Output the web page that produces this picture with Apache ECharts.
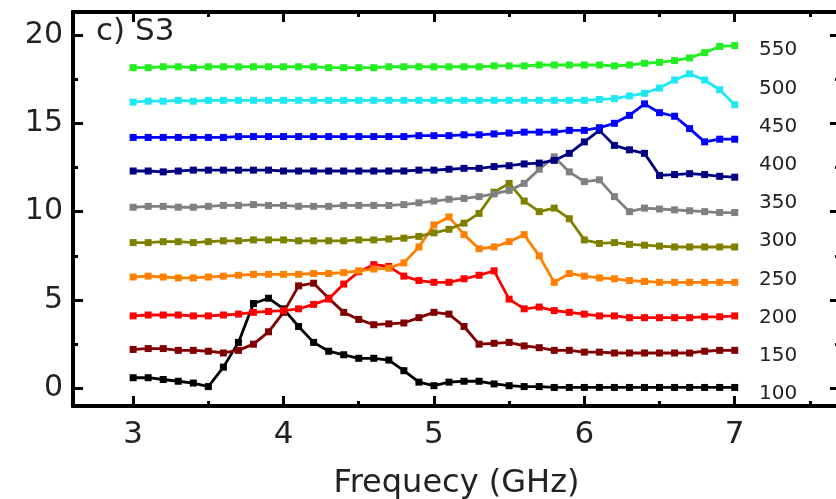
<!DOCTYPE html>
<html>
<head>
<meta charset="utf-8">
<script src="https://cdn.jsdelivr.net/npm/echarts@6/dist/echarts.min.js"></script>
<style>
html,body{margin:0;padding:0;background:#fff;overflow:hidden;}
#chart{width:850px;height:499px;}
</style>
</head>
<body>
<div id="chart"></div>
<script>
// ---- data ----
const freq = [3.0,3.1,3.2,3.3,3.4,3.5,3.6,3.7,3.8,3.9,4.0,4.1,4.2,4.3,4.4,4.5,4.6,4.7,4.8,4.9,5.0,5.1,5.2,5.3,5.4,5.5,5.6,5.7,5.8,5.9,6.0,6.1,6.2,6.3,6.4,6.5,6.6,6.7,6.8,6.9,7.0];
const seriesNames = ['100','150','200','250','300','350','400','450','500','550'];
const s100 = [0.6,0.6,0.5,0.4,0.3,0.1,1.2,2.6,4.8,5.1,4.5,3.5,2.6,2.1,1.9,1.7,1.7,1.6,1.0,0.35,0.15,0.35,0.4,0.4,0.25,0.15,0.1,0.1,0.05,0.05,0.05,0.05,0.05,0.05,0.05,0.05,0.05,0.05,0.05,0.05,0.05];
const s150 = [2.2,2.25,2.25,2.15,2.15,2.1,2.0,2.15,2.5,3.2,4.3,5.8,5.95,5.1,4.3,3.9,3.6,3.65,3.7,4.0,4.3,4.2,3.5,2.5,2.55,2.6,2.4,2.3,2.15,2.15,2.05,2.05,2.0,2.0,2.0,2.0,2.0,2.0,2.1,2.15,2.15];
const s200 = [4.1,4.15,4.15,4.15,4.1,4.1,4.15,4.2,4.3,4.35,4.4,4.5,4.75,5.05,5.9,6.6,7.0,6.9,6.35,6.1,6.0,6.0,6.2,6.4,6.65,5.05,4.5,4.6,4.4,4.3,4.2,4.1,4.1,4.0,4.0,4.0,4.0,4.0,4.05,4.05,4.1];
const s250 = [6.3,6.35,6.3,6.25,6.25,6.3,6.35,6.4,6.45,6.45,6.45,6.45,6.5,6.5,6.55,6.65,6.75,6.8,7.1,8.0,9.25,9.7,8.7,7.9,8.0,8.3,8.7,7.5,6.0,6.5,6.35,6.25,6.2,6.1,6.05,6.0,6.0,6.0,6.0,6.0,6.0];
const s300 = [8.25,8.25,8.3,8.3,8.25,8.3,8.35,8.35,8.4,8.4,8.4,8.35,8.35,8.35,8.35,8.4,8.4,8.45,8.5,8.6,8.8,9.0,9.35,9.9,11.1,11.6,10.6,10.0,10.2,9.6,8.4,8.2,8.25,8.15,8.1,8.05,8.0,8.0,8.0,8.0,8.0];
const s350 = [10.25,10.3,10.3,10.25,10.25,10.3,10.35,10.35,10.4,10.35,10.35,10.3,10.3,10.3,10.35,10.35,10.35,10.35,10.4,10.5,10.6,10.7,10.75,10.85,11.0,11.2,11.6,12.4,13.1,12.25,11.7,11.8,10.85,10.0,10.2,10.15,10.1,10.05,10.0,9.95,9.95];
const s400 = [12.3,12.3,12.25,12.3,12.35,12.35,12.35,12.35,12.35,12.35,12.3,12.3,12.3,12.3,12.3,12.3,12.3,12.3,12.3,12.35,12.35,12.4,12.45,12.45,12.55,12.6,12.7,12.75,12.9,13.3,13.95,14.6,13.75,13.5,13.3,12.05,12.1,12.15,12.1,12.0,11.95];
const s450 = [14.2,14.2,14.2,14.2,14.2,14.2,14.2,14.25,14.25,14.25,14.25,14.25,14.25,14.25,14.25,14.25,14.25,14.25,14.25,14.3,14.3,14.3,14.35,14.35,14.4,14.45,14.5,14.5,14.5,14.6,14.6,14.75,15.0,15.45,16.1,15.6,15.4,14.7,13.95,14.1,14.1];
const s500 = [16.2,16.25,16.25,16.3,16.25,16.3,16.3,16.3,16.3,16.3,16.3,16.3,16.3,16.3,16.3,16.3,16.3,16.3,16.3,16.3,16.3,16.3,16.3,16.3,16.3,16.3,16.3,16.3,16.3,16.3,16.3,16.35,16.4,16.55,16.7,17.0,17.45,17.8,17.45,16.9,16.05];
const s550 = [18.15,18.15,18.2,18.2,18.15,18.2,18.2,18.2,18.2,18.2,18.2,18.2,18.2,18.15,18.15,18.15,18.15,18.2,18.2,18.2,18.2,18.2,18.2,18.2,18.25,18.25,18.25,18.3,18.3,18.3,18.3,18.3,18.25,18.3,18.4,18.45,18.55,18.7,19.0,19.35,19.4];
const seriesValues = [s100,s150,s200,s250,s300,s350,s400,s450,s500,s550];
const xMajorTicks = [3,4,5,6,7];
const xMinorTicks = [3.5,4.5,5.5,6.5,7.5];
const yMajorTicks = [0,5,10,15,20];
const yMinorTicks = [2.5,7.5,12.5,17.5];
const panelLabel = 'c) S3';
const xTitle = 'Frequecy (GHz)';

// ---- style ----
const colors = ['#000000','#800000','#ff0000','#ff8000','#808000','#808080','#000080','#0000ff','#1ee8f2','#22ee22'];
const FONT = 'DejaVu Sans';
const X_MIN = 2.6, X_MAX = 7.7, Y_MIN = -1, Y_MAX = 21.3;

function xAx(pos, ticks, len, labels) {
  return {
    type: 'value', position: pos, min: X_MIN, max: X_MAX,
    axisLine: {show: true, onZero: false, lineStyle: {color: '#000', width: 4}},
    axisTick: {show: true, inside: true, length: len, customValues: ticks, lineStyle: {color: '#000', width: 3}},
    axisLabel: labels ? {show: true, customValues: ticks, color: '#222', fontFamily: FONT, fontSize: 31, margin: 13,
      formatter: v => String(v)} : {show: false},
    splitLine: {show: false}
  };
}
function yAx(pos, ticks, len, labels) {
  return {
    type: 'value', position: pos, min: Y_MIN, max: Y_MAX,
    axisLine: {show: true, onZero: false, lineStyle: {color: '#000', width: 4}},
    axisTick: {show: true, inside: true, length: len, customValues: ticks, lineStyle: {color: '#000', width: 3}},
    axisLabel: labels ? {show: true, customValues: ticks, color: '#222', fontFamily: FONT, fontSize: 30, margin: 10,
      formatter: v => String(v)} : {show: false},
    splitLine: {show: false}
  };
}

const xAxes = [
  xAx('bottom', xMajorTicks, 10, true),
  xAx('bottom', xMinorTicks, 5, false),
  xAx('top', xMajorTicks, 10, false),
  xAx('top', xMinorTicks, 5, false)
];
xAxes[0].name = xTitle;
xAxes[0].nameLocation = 'middle';
xAxes[0].nameGap = 62;
xAxes[0].nameTextStyle = {fontFamily: FONT, fontSize: 32, color: '#222'};

const yAxes = [
  yAx('left', yMajorTicks, 10, true),
  yAx('left', yMinorTicks, 5, false),
  yAx('right', yMajorTicks, 10, false),
  yAx('right', yMinorTicks, 5, false)
];

const series = seriesNames.map((name, i) => ({
  name: name,
  type: 'line',
  xAxisIndex: 0, yAxisIndex: 0,
  data: freq.map((f, k) => [f, seriesValues[i][k]]),
  symbol: 'rect', symbolSize: 7,
  showSymbol: true,
  lineStyle: {color: colors[i], width: 2.8},
  itemStyle: {color: colors[i]},
  z: 2 + i,
  animation: false
}));

const graphics = seriesNames.map((name, i) => ({
  type: 'text',
  left: 759,
  top: 395 - i * 38.2 - 11,
  style: {text: name, fontFamily: FONT, fontSize: 20, fill: '#222'}
}));
graphics.push({
  type: 'text', left: 96, top: 16,
  style: {text: panelLabel, fontFamily: FONT, fontSize: 31, fill: '#222'}
});

const chart = echarts.init(document.getElementById('chart'), null, {renderer: 'canvas'});
chart.setOption({
  backgroundColor: '#fff',
  animation: false,
  grid: {left: 73, top: 12, width: 767, height: 394, containLabel: false, outerBoundsMode: 'none'},
  xAxis: xAxes,
  yAxis: yAxes,
  series: series,
  graphic: graphics
});
</script>
</body>
</html>
